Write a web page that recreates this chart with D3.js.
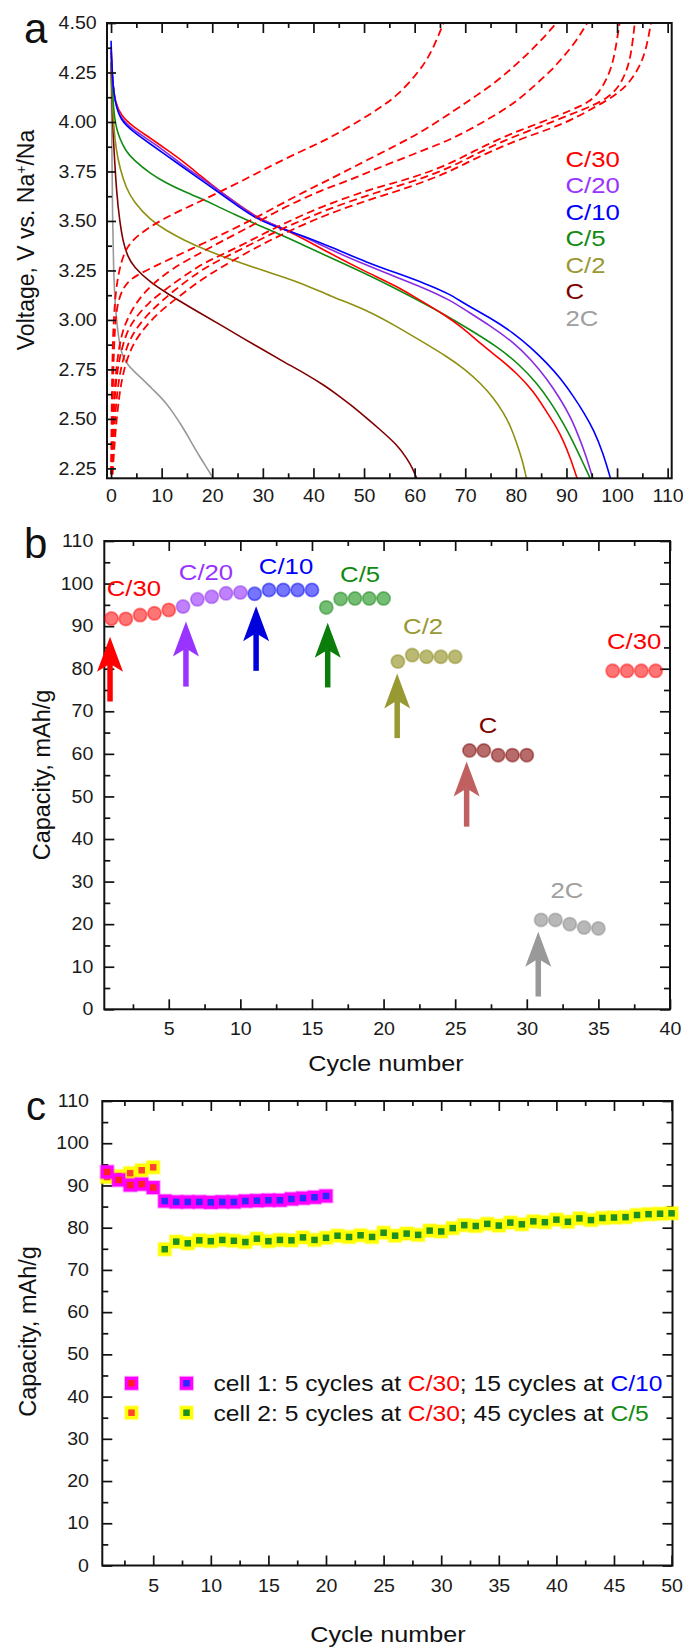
<!DOCTYPE html>
<html><head><meta charset="utf-8">
<script src="https://cdn.jsdelivr.net/npm/d3@7/dist/d3.min.js"></script>
<style>body{margin:0;background:#fff} svg{display:block}</style>
</head><body>
<script>
// ================= DATA =================
// ---- panel a: discharge curves (capacity mAh/g, voltage V) ----
const rateLabels = ["C/30","C/20","C/10","C/5","C/2","C","2C"];
const dischargeC30 = [[0,4.36],[0.3,4.2],[0.8,4.1],[2,4.03],[4.4,3.975],[7.7,3.92],[11,3.86],[14.3,3.8],[17.6,3.73],[21,3.66],[24.2,3.6],[28.1,3.53],[32,3.48],[36,3.44],[43.3,3.335],[50.6,3.24],[56.5,3.17],[61,3.1],[65.7,3.03],[69.5,2.96],[73,2.88],[77,2.8],[80.2,2.73],[83.5,2.64],[86.2,2.53],[88,2.46],[89.4,2.39],[90.8,2.3],[92.1,2.2]];
const dischargeC20 = [[0,4.38],[0.3,4.2],[0.8,4.1],[1.8,4.02],[4.4,3.96],[7.7,3.905],[11,3.845],[14.3,3.78],[17.6,3.72],[21,3.66],[24.2,3.6],[28.1,3.525],[32,3.48],[37.4,3.43],[43.3,3.355],[50.6,3.275],[56.5,3.215],[62,3.16],[67,3.1],[69.7,3.055],[75,2.97],[79.6,2.885],[83,2.8],[86.2,2.7],[88.8,2.6],[90.8,2.51],[92.3,2.42],[93.8,2.32],[95.2,2.2]];
const dischargeC10 = [[0,4.41],[0.3,4.2],[0.8,4.1],[1.8,4.01],[4.4,3.95],[7.7,3.89],[11,3.83],[14.3,3.77],[17.6,3.71],[21,3.65],[24.2,3.59],[28.1,3.52],[32,3.475],[37.4,3.43],[43.3,3.37],[50.6,3.29],[56.5,3.236],[62,3.185],[67,3.13],[69.7,3.084],[75,3.01],[79.6,2.933],[83,2.86],[86.2,2.781],[89,2.7],[91.4,2.613],[93.5,2.53],[95.4,2.444],[97.2,2.33],[98.7,2.2]];
const dischargeC5 = [[0,4.35],[0.2,4.2],[0.5,4.06],[1,3.97],[1.8,3.91],[3,3.85],[4.4,3.81],[7.7,3.74],[11,3.69],[14.3,3.65],[17.6,3.615],[21,3.575],[24.2,3.535],[29,3.48],[34,3.425],[38.7,3.37],[43.3,3.315],[50.6,3.23],[56.5,3.155],[61,3.095],[65.7,3.03],[71,2.95],[76.3,2.865],[80.5,2.78],[84.2,2.68],[87,2.58],[89.4,2.478],[91.2,2.39],[92.5,2.32],[94.7,2.2]];
const dischargeC2 = [[0,4.3],[0.2,4.15],[0.5,3.976],[1,3.86],[1.8,3.76],[3,3.665],[4.4,3.6],[7.7,3.505],[11,3.45],[14.3,3.404],[19,3.35],[24.2,3.3],[30,3.25],[37.4,3.19],[43.3,3.12],[50.6,3.05],[56.5,2.966],[61.5,2.89],[66.4,2.815],[70,2.75],[73,2.68],[75.5,2.61],[77.6,2.53],[79,2.46],[80.2,2.377],[81.3,2.29],[82.1,2.2]];
const dischargeC1 = [[0,4.3],[0.3,4.0],[0.6,3.85],[1.1,3.64],[1.7,3.5],[2.4,3.39],[3.3,3.32],[4.4,3.27],[7.7,3.19],[11,3.135],[17.6,3.034],[22,2.97],[26.2,2.905],[30,2.85],[34,2.79],[38.5,2.727],[42.3,2.667],[45,2.617],[47.3,2.572],[49.9,2.517],[53,2.45],[56.5,2.37],[58.5,2.3],[59.6,2.25],[60.4,2.2]];
const discharge2C = [[0,4.3],[0.15,3.9],[0.3,3.5],[0.5,3.25],[0.8,3.07],[1.5,2.9],[2.2,2.82],[3.1,2.78],[4.7,2.735],[6.4,2.697],[8,2.655],[9.7,2.613],[11,2.575],[12.3,2.53],[14,2.465],[15.6,2.394],[17.5,2.31],[19,2.25],[20.2,2.2]];
// ---- panel a: charge curves at C/30 (dashed) ----
const chargeA = [[0,2.22],[0.1,2.5],[0.25,2.8],[0.5,3.0],[1,3.17],[2,3.3],[3.5,3.39],[7,3.46],[11,3.52],[16,3.58],[21,3.64],[28,3.73],[34,3.81],[40,3.88],[44,3.93],[50,4.02],[53,4.07],[56.5,4.13],[61.1,4.26],[63.5,4.36],[65.7,4.5]];
const chargeB = [[0.1,2.22],[0.3,2.6],[0.6,2.9],[1.1,3.08],[2.5,3.17],[4.4,3.22],[11,3.3],[16,3.36],[21,3.42],[29,3.52],[36,3.62],[44,3.72],[50,3.8],[57,3.89],[62,3.96],[68,4.06],[72,4.13],[76,4.2],[79.6,4.28],[83,4.36],[86,4.44],[88,4.5]];
const chargeC = [[0.1,2.22],[0.5,2.6],[1.2,2.8],[2,2.92],[3.1,3.0],[5,3.09],[7.7,3.17],[12,3.26],[17.6,3.337],[22,3.4],[27.5,3.47],[32,3.54],[37.4,3.606],[42,3.66],[47.3,3.707],[52,3.76],[57.1,3.81],[62,3.86],[67,3.91],[71.5,3.97],[76.3,4.04],[80.5,4.11],[84.2,4.196],[87,4.26],[89.4,4.33],[92,4.41],[94.1,4.5]];
const chargeD = [[0.1,2.22],[0.4,2.48],[0.9,2.68],[1.6,2.8],[2.8,2.92],[4.4,3.0],[7.5,3.09],[11,3.16],[17.6,3.28],[22,3.33],[27.5,3.4],[32,3.46],[37.4,3.525],[42,3.575],[47.3,3.625],[52,3.665],[57.1,3.7],[62,3.74],[67,3.79],[71.5,3.85],[76.3,3.91],[81,3.96],[86.2,4.01],[91,4.06],[94.5,4.1],[96.5,4.15],[98,4.22],[99.3,4.3],[100.5,4.5]];
const chargeE = [[0.2,2.22],[0.6,2.45],[1.2,2.64],[2,2.77],[3.3,2.88],[5,2.96],[8,3.05],[12,3.14],[17.6,3.25],[22,3.31],[27.5,3.38],[32,3.44],[37.4,3.5],[42,3.55],[47.3,3.6],[52,3.64],[57.1,3.68],[62,3.72],[67,3.77],[71.5,3.83],[76.3,3.89],[81,3.94],[86.2,3.99],[91,4.04],[95,4.08],[98,4.12],[100.2,4.17],[101.8,4.25],[102.8,4.34],[103.5,4.5]];
const chargeF = [[0.3,2.22],[0.8,2.42],[1.5,2.6],[2.4,2.74],[3.8,2.85],[5.6,2.93],[9,3.03],[13,3.11],[17.6,3.2],[22,3.27],[27.5,3.35],[32,3.41],[37.4,3.475],[42,3.525],[47.3,3.575],[52,3.615],[57.1,3.655],[62,3.7],[67,3.75],[71.5,3.81],[76.3,3.865],[81,3.915],[86.2,3.96],[91,4.01],[96,4.08],[100,4.14],[102.5,4.2],[104.5,4.28],[105.8,4.37],[106.7,4.5]];

// ---- panel a ticks ----
const aXTicks = [0,10,20,30,40,50,60,70,80,90,100,110];
const aXMinor = [5,15,25,35,45,55,65,75,85,95,105];
const aYTicks = [2.25,2.5,2.75,3.0,3.25,3.5,3.75,4.0,4.25,4.5];
const aYMinor = [2.375,2.625,2.875,3.125,3.375,3.625,3.875,4.125,4.375];

// ---- panel b: rate capability (cycle, capacity) ----
const cycC30a = [1,2,3,4,5],      capC30a = [91.8,91.7,92.6,93.0,93.8];
const cycC20  = [6,7,8,9,10],     capC20  = [94.6,96.3,96.9,97.7,97.9];
const cycC10  = [11,12,13,14,15], capC10  = [97.6,98.5,98.5,98.5,98.5];
const cycC5   = [16,17,18,19,20], capC5   = [94.4,96.4,96.5,96.5,96.5];
const cycC2   = [21,22,23,24,25], capC2   = [81.7,83.2,82.8,82.8,82.8];
const cycC1   = [26,27,28,29,30], capC1   = [60.8,60.8,59.7,59.7,59.7];
const cyc2C   = [31,32,33,34,35], cap2C   = [21.0,21.0,20.0,19.2,19.0];
const cycC30b = [36,37,38,39],    capC30b = [79.5,79.5,79.5,79.5];
// arrows (cycle, tail capacity, tip capacity)
const arrowCycle = [0.9,6.2,11.1,16.1,20.95,25.8,30.8];
const arrowTail  = [72.3,75.8,79.5,75.6,63.7,42.9,3.0];
const arrowTip   = [87.5,91.1,94.7,90.8,78.9,58.2,18.2];
// rate labels in panel b (data coordinates)
const bLabelText  = ["C/30","C/20","C/10","C/5","C/2","C","C/30","2C"];
const bLabelCycle = [2.57,7.6,13.19,18.36,22.76,27.3,37.5,32.8];
const bLabelCap   = [97.1,100.8,102.2,100.4,88.2,64.9,84.6,26.1];
const bXTicks = [5,10,15,20,25,30,35,40];
const bXMinor = [2.5,7.5,12.5,17.5,22.5,27.5,32.5,37.5];
const capTicks = [0,10,20,30,40,50,60,70,80,90,100,110];
const capMinor = [5,15,25,35,45,55,65,75,85,95,105];

// ---- panel c: cycling of two cells ----
const cell1Cycles = [1,2,3,4,5,6,7,8,9,10,11,12,13,14,15,16,17,18,19,20];
const cell1Cap = [93.2,91.3,90.1,90.3,89.5,86.3,86.1,86.1,86.1,86.0,86.1,86.1,86.3,86.4,86.5,86.5,86.8,87.0,87.2,87.5];
const cell2Cycles = [1,2,3,4,5,6,7,8,9,10,11,12,13,14,15,16,17,18,19,20,21,22,23,24,25,26,27,28,29,30,31,32,33,34,35,36,37,38,39,40,41,42,43,44,45,46,47,48,49,50];
const cell2Cap = [92.0,92.2,92.9,93.6,94.3,
  74.9,76.7,76.3,77.0,76.8,77.1,76.9,76.6,77.4,76.8,
  77.1,77.0,77.7,77.1,77.6,78.1,77.8,78.2,77.8,78.8,
  78.1,78.6,78.3,79.3,79.1,79.9,80.6,80.4,80.9,80.5,
  81.2,80.8,81.5,81.3,81.9,81.4,82.2,81.8,82.3,82.4,
  82.5,83.0,83.2,83.3,83.4];
const cXTicks = [5,10,15,20,25,30,35,40,45,50];
const cXMinor = [2.5,7.5,12.5,17.5,22.5,27.5,32.5,37.5,42.5,47.5];

// ================= DRAWING =================
const FONT = '"Liberation Sans", Arial, Helvetica, sans-serif';
const SX = 1.12; // horizontal stretch of upright text
const svg = d3.select('body').append('svg').attr('width',683).attr('height',1647)
  .style('font-family', FONT);

function txt(g, x, y, str, size, fill, anchor) {
  return g.append('text').attr('transform',`translate(${x},${y}) scale(${SX},1)`)
    .attr('font-size',size).attr('fill',fill||'#111').attr('text-anchor',anchor||'middle').text(str);
}
function styleAxis(g, fs) {
  g.select('.domain').remove();
  g.selectAll('.tick line').attr('stroke','#111').attr('stroke-width',1.7);
  g.selectAll('.tick text').attr('fill','#1a1a1a').attr('font-size',fs).attr('font-family',FONT)
    .attr('transform',`scale(${SX},1)`);
}
function axes(g, x, y, c) {
  const [xl, xr] = x.range(), [yb, yt] = y.range();
  styleAxis(g.append('g').attr('transform',`translate(0,${yb})`)
    .call(d3.axisBottom(x).tickValues(c.xMajor).tickSize(-c.xMaj).tickPadding(c.xPad).tickFormat(c.xFmt)), c.fs);
  styleAxis(g.append('g').attr('transform',`translate(0,${yb})`)
    .call(d3.axisBottom(x).tickValues(c.xMinor).tickSize(-c.xMin).tickFormat('')), c.fs);
  styleAxis(g.append('g').attr('transform',`translate(0,${yt})`)
    .call(d3.axisTop(x).tickValues(c.xMajor).tickSize(-c.xMaj).tickFormat('')), c.fs);
  styleAxis(g.append('g').attr('transform',`translate(0,${yt})`)
    .call(d3.axisTop(x).tickValues(c.xMinor).tickSize(-c.xMin).tickFormat('')), c.fs);
  styleAxis(g.append('g').attr('transform',`translate(${xl},0)`)
    .call(d3.axisLeft(y).tickValues(c.yMajor).tickSize(-c.yMaj).tickPadding(c.yPad).tickFormat(c.yFmt)), c.fs);
  styleAxis(g.append('g').attr('transform',`translate(${xl},0)`)
    .call(d3.axisLeft(y).tickValues(c.yMinor).tickSize(-c.yMin).tickFormat('')), c.fs);
  if (c.right) {
    styleAxis(g.append('g').attr('transform',`translate(${xr},0)`)
      .call(d3.axisRight(y).tickValues(c.yMajor).tickSize(-c.yMaj).tickFormat('')), c.fs);
    styleAxis(g.append('g').attr('transform',`translate(${xr},0)`)
      .call(d3.axisRight(y).tickValues(c.yMinor).tickSize(-c.yMin).tickFormat('')), c.fs);
  }
  g.append('rect').attr('x',xl).attr('y',yt).attr('width',xr-xl).attr('height',yb-yt)
    .attr('fill','none').attr('stroke','#111').attr('stroke-width',2);
}

// ---------- Panel a ----------
{
  const g = svg.append('g');
  const x = d3.scaleLinear([-0.8,110.8],[107,671.7]);
  const y = d3.scaleLinear([2.2,4.5],[478.3,23]);
  g.append('clipPath').attr('id','clipA').append('rect')
    .attr('x',107).attr('y',23).attr('width',564.7).attr('height',455.3);
  const line = d3.line().x(d=>x(d[0])).y(d=>y(d[1])).curve(d3.curveBasis);
  const lines = g.append('g').attr('clip-path','url(#clipA)');
  const solids = [
    [discharge2C,'#999999'],[dischargeC1,'#800000'],[dischargeC2,'#8f8f12'],
    [dischargeC5,'#118a11'],[dischargeC30,'#ff0000'],[dischargeC20,'#8a2be2'],[dischargeC10,'#0000ff']];
  solids.forEach(([d,c])=>lines.append('path').attr('d',line(d)).attr('fill','none')
    .attr('stroke',c).attr('stroke-width',1.6));
  [chargeA,chargeB,chargeC,chargeD,chargeE,chargeF].forEach(d=>lines.append('path').attr('d',line(d))
    .attr('fill','none').attr('stroke','#ff0000').attr('stroke-width',1.8).attr('stroke-dasharray','8,4.5'));
  axes(g, x, y, {xMajor:aXTicks, xMinor:aXMinor, yMajor:aYTicks, yMinor:aYMinor,
    xFmt:d3.format('d'), yFmt:d3.format('.2f'), xMaj:10, xMin:5, yMaj:9, yMin:5,
    xPad:11.3, yPad:9.2, fs:17.5, right:false});
  // legend
  const legColors = ['#ff0000','#9933ff','#0000ff','#128a12','#999933','#800000','#a0a0a0'];
  rateLabels.forEach((t,i)=>txt(g, x(89.8), y(3.774)+i*26.55, t, 23, legColors[i], 'start'));
  // y title
  const yt = g.append('text').attr('transform','translate(33.5,240) rotate(-90)')
    .attr('text-anchor','middle').attr('font-size',23).attr('fill','#111');
  yt.append('tspan').text('Voltage, V vs. Na');
  yt.append('tspan').attr('baseline-shift','super').attr('font-size',14).text('+');
  yt.append('tspan').text('/Na');
  g.append('text').attr('x',24).attr('y',43).attr('font-size',42).attr('fill','#111').text('a');
}

// ---------- Panel b ----------
{
  const g = svg.append('g');
  const x = d3.scaleLinear([0.5,40],[104.3,670]);
  const y = d3.scaleLinear([0,110],[1009.3,541]);
  axes(g, x, y, {xMajor:bXTicks, xMinor:bXMinor, yMajor:capTicks, yMinor:capMinor,
    xFmt:d3.format('d'), yFmt:d3.format('d'), xMaj:10, xMin:5, yMaj:10, yMin:6,
    xPad:13.3, yPad:9.8, fs:17.5, right:true});
  const series = [
    [cycC30a,capC30a,'#ff2020','#ff0000'],[cycC20,capC20,'#9933ff','#8a2be2'],
    [cycC10,capC10,'#2020ff','#0000ee'],[cycC5,capC5,'#1e961e','#118011'],
    [cycC2,capC2,'#8f8f20','#858510'],[cycC1,capC1,'#8b1010','#7a0000'],
    [cyc2C,cap2C,'#8c8c8c','#888888'],[cycC30b,capC30b,'#ff2020','#ff0000']];
  series.forEach(([cx,cy,f,s])=>{
    g.append('g').selectAll('circle').data(cx.map((c,i)=>[c,cy[i]])).join('circle')
      .attr('cx',d=>x(d[0])).attr('cy',d=>y(d[1])).attr('r',6.6)
      .attr('fill',f).attr('fill-opacity',0.62).attr('stroke',s).attr('stroke-opacity',0.45).attr('stroke-width',1.8);
  });
  const arrowColors = ['#ff0000','#9933ff','#0000dd','#0a7d0a','#999933','#c06060','#999999'];
  const HL = 35, HW = 13;
  arrowCycle.forEach((c,i)=>{
    const ax = x(c), yt = y(arrowTip[i]), yb = y(arrowTail[i]);
    g.append('line').attr('x1',ax).attr('x2',ax).attr('y1',yb).attr('y2',yt+HL-8)
      .attr('stroke',arrowColors[i]).attr('stroke-width',5.5);
    g.append('path').attr('d',`M${ax},${yt} L${ax-HW},${yt+HL} L${ax},${yt+HL-8} L${ax+HW},${yt+HL} Z`)
      .attr('fill',arrowColors[i]);
  });
  const labColors = ['#ff0000','#9933ff','#0000ff','#128a12','#999933','#800000','#ff0000','#a0a0a0'];
  bLabelText.forEach((t,i)=>txt(g, x(bLabelCycle[i]), y(bLabelCap[i]), t, 23, labColors[i], 'middle'));
  txt(g, 386, 1071, 'Cycle number', 22.5, '#111', 'middle');
  g.append('text').attr('transform','translate(49.5,775) rotate(-90)')
    .attr('text-anchor','middle').attr('font-size',23.5).attr('fill','#111').text('Capacity, mAh/g');
  g.append('text').attr('x',24).attr('y',558).attr('font-size',42).attr('fill','#111').text('b');
}

// ---------- Panel c ----------
{
  const g = svg.append('g');
  const x = d3.scaleLinear([0.58,50.08],[102.3,672.5]);
  const y = d3.scaleLinear([0,110],[1565.5,1101]);
  axes(g, x, y, {xMajor:cXTicks, xMinor:cXMinor, yMajor:capTicks, yMinor:capMinor,
    xFmt:d3.format('d'), yFmt:d3.format('d'), xMaj:10, xMin:5, yMaj:10, yMin:6,
    xPad:14.1, yPad:11.9, fs:17.5, right:true});
  const O = 13, I = 6.5;
  function marker(sel, border, center) {
    sel.append('rect').attr('x',-O/2-1).attr('y',-O/2-1).attr('width',O+2).attr('height',O+2)
      .attr('fill',border).attr('opacity',0.35);
    sel.append('rect').attr('x',-O/2).attr('y',-O/2).attr('width',O).attr('height',O).attr('fill',border);
    sel.append('rect').attr('x',-I/2).attr('y',-I/2).attr('width',I).attr('height',I).attr('fill',center);
  }
  const d2 = cell2Cycles.map((c,i)=>[c,cell2Cap[i]]);
  const d1 = cell1Cycles.map((c,i)=>[c,cell1Cap[i]]);
  g.append('g').selectAll('g').data(d2).join('g')
    .attr('transform',d=>`translate(${x(d[0])},${y(d[1])})`)
    .each(function(d){ marker(d3.select(this),'#ffff00', d[0]<=5 ? '#ff4530' : '#1f8f1f'); });
  g.append('g').selectAll('g').data(d1).join('g')
    .attr('transform',d=>`translate(${x(d[0])},${y(d[1])})`)
    .each(function(d){ marker(d3.select(this),'#ff00ff', d[0]<=5 ? '#ff2020' : '#2a2aff'); });
  // legend
  marker(g.append('g').attr('transform','translate(131.5,1383.3)'),'#ff00ff','#ff2020');
  marker(g.append('g').attr('transform','translate(186.5,1383.3)'),'#ff00ff','#2a2aff');
  marker(g.append('g').attr('transform','translate(131.5,1412.7)'),'#ffff00','#ff4530');
  marker(g.append('g').attr('transform','translate(186.5,1412.7)'),'#ffff00','#1f8f1f');
  const l1 = g.append('text').attr('transform',`translate(213.5,1391) scale(${SX},1)`).attr('font-size',22).attr('fill','#111');
  l1.append('tspan').text('cell 1: 5 cycles at ');
  l1.append('tspan').attr('fill','#ff0000').text('C/30');
  l1.append('tspan').text('; 15 cycles at ');
  l1.append('tspan').attr('fill','#0000ff').text('C/10');
  const l2 = g.append('text').attr('transform',`translate(213.5,1421) scale(${SX},1)`).attr('font-size',22).attr('fill','#111');
  l2.append('tspan').text('cell 2: 5 cycles at ');
  l2.append('tspan').attr('fill','#ff0000').text('C/30');
  l2.append('tspan').text('; 45 cycles at ');
  l2.append('tspan').attr('fill','#128a12').text('C/5');
  txt(g, 388, 1641.5, 'Cycle number', 22.5, '#111', 'middle');
  g.append('text').attr('transform','translate(36,1331.5) rotate(-90)')
    .attr('text-anchor','middle').attr('font-size',23.5).attr('fill','#111').text('Capacity, mAh/g');
  g.append('text').attr('x',26).attr('y',1120).attr('font-size',40).attr('fill','#111').text('c');
}
</script>
</body></html>
